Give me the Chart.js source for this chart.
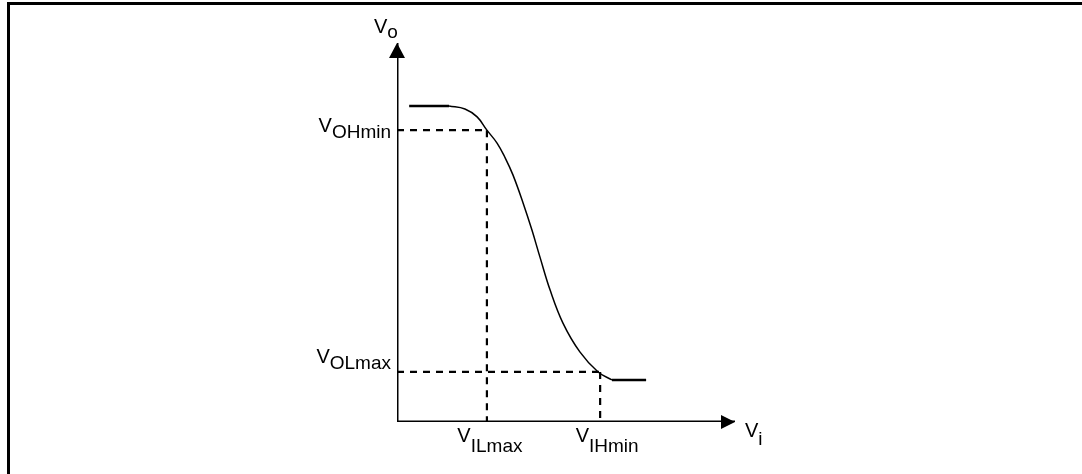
<!DOCTYPE html>
<html>
<head>
<meta charset="utf-8">
<script src="https://cdn.jsdelivr.net/npm/chart.js@4/dist/chart.umd.min.js"></script>
<style>
  html, body { margin: 0; padding: 0; background: #fff; }
  #wrap { position: relative; width: 1082px; height: 474px; overflow: hidden; }
  #frame { position: absolute; left: 7px; top: 2px; right: -10px; bottom: -10px;
           border-top: 3px solid #000; border-left: 3px solid #000; }
  canvas { position: absolute; left: 0; top: 0; }
</style>
</head>
<body>
<div id="wrap">
  <div id="frame"></div>
  <canvas id="c" width="1082" height="474"></canvas>
</div>
<script>
// ---- data (axis units 0..10 on both axes) ----
const highX = [0.36, 1.54];
const highY = [8.34, 8.34];
const curveX = [1.54, 2.01, 2.37, 2.66, 2.96, 3.20, 3.43, 3.73, 3.99, 4.23, 4.53, 4.91, 5.41, 5.95, 6.36];
const curveY = [8.34, 8.26, 8.05, 7.70, 7.36, 6.97, 6.52, 5.78, 5.07, 4.35, 3.48, 2.61, 1.85, 1.32, 1.11];
const lowX = [6.36, 7.37];
const lowY = [1.11, 1.11];
const outLevelNames = ['OHmin', 'OLmax'];
const outLevelValues = [7.70, 1.32];
const inLevelNames = ['ILmax', 'IHmin'];
const inLevelValues = [2.66, 6.01];
const axisMax = 10;
const yAxisName = 'o';
const xAxisName = 'i';

const pts = (xs, ys) => xs.map((x, i) => ({ x: x, y: ys[i] }));

const datasets = [];
// dashed guide lines built from the level arrays
outLevelValues.forEach((lv, i) => {
  const xv = inLevelValues[i];
  datasets.push({ data: [{ x: 0, y: lv }, { x: xv, y: lv }], borderColor: '#000', borderWidth: 2.2, borderDash: [7, 6], pointRadius: 0, showLine: true });
  datasets.push({ data: [{ x: xv, y: lv }, { x: xv, y: 0 }], borderColor: '#000', borderWidth: 2.2, borderDash: [7, 6], pointRadius: 0, showLine: true });
});
// axes
datasets.push({ data: [{ x: 0, y: 0 }, { x: 0, y: axisMax }], borderColor: '#000', borderWidth: 3, pointRadius: 0, showLine: true });
datasets.push({ data: [{ x: 0, y: 0 }, { x: axisMax, y: 0 }], borderColor: '#000', borderWidth: 3, pointRadius: 0, showLine: true });
// transfer curve
datasets.push({ data: pts(highX, highY), borderColor: '#000', borderWidth: 2.5, pointRadius: 0, showLine: true });
datasets.push({ data: pts(curveX, curveY), borderColor: '#000', borderWidth: 1.5, pointRadius: 0, showLine: true, tension: 0.4 });
datasets.push({ data: pts(lowX, lowY), borderColor: '#000', borderWidth: 2.5, pointRadius: 0, showLine: true });

const FONT = '"Liberation Sans", Arial, Helvetica, sans-serif';
function drawSub(ctx, x, y, main, sub, subDy, align) {
  ctx.font = '20px ' + FONT;
  const wm = ctx.measureText(main).width;
  ctx.font = '19px ' + FONT;
  const ws = ctx.measureText(sub).width;
  let x0 = x;
  if (align === 'right') x0 = x - wm - ws;
  else if (align === 'center') x0 = x - (wm + ws) / 2;
  ctx.font = '20px ' + FONT;
  ctx.fillText(main, x0, y);
  ctx.font = '19px ' + FONT;
  ctx.fillText(sub, x0 + wm, y + subDy);
}

const decor = {
  id: 'decor',
  afterDatasetsDraw(chart) {
    const ctx = chart.ctx;
    const xs = chart.scales.x, ys = chart.scales.y;
    const x0 = xs.getPixelForValue(0), y0 = ys.getPixelForValue(0);
    const xt = xs.getPixelForValue(axisMax), yt = ys.getPixelForValue(axisMax);
    ctx.save();
    ctx.fillStyle = '#000';
    // arrow heads
    ctx.beginPath();
    ctx.moveTo(x0, yt);
    ctx.lineTo(x0 - 8, yt + 15);
    ctx.lineTo(x0 + 8, yt + 15);
    ctx.closePath();
    ctx.fill();
    ctx.beginPath();
    ctx.moveTo(xt, y0);
    ctx.lineTo(xt - 14, y0 - 7);
    ctx.lineTo(xt - 14, y0 + 7);
    ctx.closePath();
    ctx.fill();
    // labels
    ctx.textBaseline = 'alphabetic';
    ctx.textAlign = 'left';
    const outDy = [2, -9];
    outLevelNames.forEach((n, i) => {
      const py = ys.getPixelForValue(outLevelValues[i]);
      drawSub(ctx, x0 - 6, py + outDy[i], 'V', n, 6, 'right');
    });
    const inDx = [3, 7];
    inLevelNames.forEach((n, i) => {
      const px = xs.getPixelForValue(inLevelValues[i]);
      drawSub(ctx, px + inDx[i], y0 + 20, 'V', n, 10, 'center');
    });
    drawSub(ctx, xt + 10, y0 + 15, 'V', xAxisName, 8, 'left');
    drawSub(ctx, x0 - 23, yt - 10, 'V', yAxisName, 5, 'left');
    ctx.restore();
  }
};

new Chart(document.getElementById('c'), {
  type: 'scatter',
  data: { datasets: datasets },
  options: {
    responsive: false,
    animation: false,
    layout: { padding: { left: 397, right: 347, top: 43, bottom: 52 } },
    scales: {
      x: { type: 'linear', min: 0, max: axisMax, display: false },
      y: { type: 'linear', min: 0, max: axisMax, display: false }
    },
    plugins: { legend: { display: false }, tooltip: { enabled: false } },
    elements: { point: { radius: 0 } }
  },
  plugins: [decor]
});
</script>
</body>
</html>
